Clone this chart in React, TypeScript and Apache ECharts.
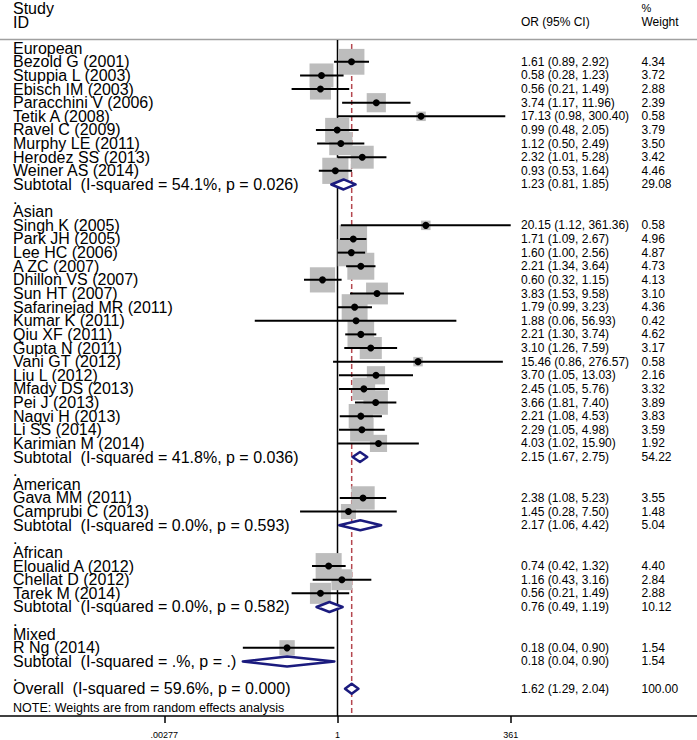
import React, { useEffect, useRef } from "react";
import * as echarts from "echarts";

// ---------- data ----------
const groupNames = ["European", "Asian", "American", "African", "Mixed"];

const studyNames = [
  ["Bezold G (2001)", "Stuppia L (2003)", "Ebisch IM (2003)", "Paracchini V (2006)", "Tetik A (2008)", "Ravel C (2009)", "Murphy LE (2011)", "Herodez SS (2013)", "Weiner AS (2014)"],
  ["Singh K (2005)", "Park JH (2005)", "Lee HC (2006)", "A ZC (2007)", "Dhillon VS (2007)", "Sun HT (2007)", "Safarinejad MR (2011)", "Kumar K (2011)", "Qiu XF (2011)", "Gupta N (2011)", "Vani GT (2012)", "Liu L (2012)", "Mfady DS (2013)", "Pei J (2013)", "Naqvi H (2013)", "Li SS (2014)", "Karimian M (2014)"],
  ["Gava MM (2011)", "Camprubi C (2013)"],
  ["Eloualid A (2012)", "Chellat D (2012)", "Tarek M (2014)"],
  ["R Ng (2014)"],
];
const studyOR = [
  [1.61, 0.58, 0.56, 3.74, 17.13, 0.99, 1.12, 2.32, 0.93],
  [20.15, 1.71, 1.6, 2.21, 0.6, 3.83, 1.79, 1.88, 2.21, 3.1, 15.46, 3.7, 2.45, 3.66, 2.21, 2.29, 4.03],
  [2.38, 1.45],
  [0.74, 1.16, 0.56],
  [0.18],
];
const studyLo = [
  [0.89, 0.28, 0.21, 1.17, 0.98, 0.48, 0.5, 1.01, 0.53],
  [1.12, 1.09, 1.0, 1.34, 0.32, 1.53, 0.99, 0.06, 1.3, 1.26, 0.86, 1.05, 1.05, 1.81, 1.08, 1.05, 1.02],
  [1.08, 0.28],
  [0.42, 0.43, 0.21],
  [0.04],
];
const studyHi = [
  [2.92, 1.23, 1.49, 11.96, 300.4, 2.05, 2.49, 5.28, 1.64],
  [361.36, 2.67, 2.56, 3.64, 1.15, 9.58, 3.23, 56.93, 3.74, 7.59, 276.57, 13.03, 5.76, 7.4, 4.53, 4.98, 15.9],
  [5.23, 7.5],
  [1.32, 3.16, 1.49],
  [0.9],
];
const studyWeight = [
  [4.34, 3.72, 2.88, 2.39, 0.58, 3.79, 3.5, 3.42, 4.46],
  [0.58, 4.96, 4.87, 4.73, 4.13, 3.1, 4.36, 0.42, 4.62, 3.17, 0.58, 2.16, 3.32, 3.89, 3.83, 3.59, 1.92],
  [3.55, 1.48],
  [4.4, 2.84, 2.88],
  [1.54],
];

const subtotalLabels = [
  "Subtotal\u00a0 (I-squared = 54.1%, p = 0.026)",
  "Subtotal\u00a0 (I-squared = 41.8%, p = 0.036)",
  "Subtotal\u00a0 (I-squared = 0.0%, p = 0.593)",
  "Subtotal\u00a0 (I-squared = 0.0%, p = 0.582)",
  "Subtotal\u00a0 (I-squared = .%, p = .)",
];
const subtotalOR = [1.23, 2.15, 2.17, 0.76, 0.18];
const subtotalLo = [0.81, 1.67, 1.06, 0.49, 0.04];
const subtotalHi = [1.85, 2.75, 4.42, 1.19, 0.9];
const subtotalWeight = [29.08, 54.22, 5.04, 10.12, 1.54];

const overallLabel = "Overall\u00a0 (I-squared = 59.6%, p = 0.000)";
const overallOR = 1.62;
const overallLo = 1.29;
const overallHi = 2.04;
const overallWeight = 100.0;

const tickValues = [0.00277, 1, 361];
const tickLabels = [".00277", "1", "361"];

// ---------- layout / style ----------
const W = 697;
const H = 740;
const FONT = '"Liberation Sans", Arial, sans-serif';
const LABEL_X = 13;
const OR_X = 521;
const WT_X = 641.5;
const X_MIN = -11.476;
const X_MAX = 12.224;
const Y_MIN = -0.6;
const Y_MAX = 49;
const BOX_SCALE = 12.4;
const BOX_COLOR = "#bdbdbd";
const DIAMOND_COLOR = "#1b1b7e";
const DASH_COLOR = "#b5474f";

type Row = {
  kind: "head" | "study" | "sub" | "blank" | "overall";
  label: string;
  or?: number;
  lo?: number;
  hi?: number;
  w?: number;
};

function buildRows(): Row[] {
  const rows: Row[] = [];
  groupNames.forEach((g, gi) => {
    rows.push({ kind: "head", label: g });
    studyNames[gi].forEach((n, si) => {
      rows.push({
        kind: "study",
        label: n,
        or: studyOR[gi][si],
        lo: studyLo[gi][si],
        hi: studyHi[gi][si],
        w: studyWeight[gi][si],
      });
    });
    rows.push({
      kind: "sub",
      label: subtotalLabels[gi],
      or: subtotalOR[gi],
      lo: subtotalLo[gi],
      hi: subtotalHi[gi],
      w: subtotalWeight[gi],
    });
    rows.push({ kind: "blank", label: "." });
  });
  rows.push({ kind: "overall", label: overallLabel, or: overallOR, lo: overallLo, hi: overallHi, w: overallWeight });
  return rows;
}

export default function App() {
  const ref = useRef<HTMLDivElement>(null);

  useEffect(() => {
    if (!ref.current) return;
    const chart = echarts.init(ref.current, undefined, { renderer: "svg" });
    const rows = buildRows();
    const ln = Math.log;

    const studyIdx = rows.map((r, i) => (r.kind === "study" ? i : -1)).filter((i) => i >= 0);
    const diamondIdx = rows.map((r, i) => (r.kind === "sub" || r.kind === "overall" ? i : -1)).filter((i) => i >= 0);

    const option: any = {
      animation: false,
      grid: { left: 0, right: 0, top: 40, bottom: 24, containLabel: false },
      xAxis: {
        type: "value",
        min: X_MIN,
        max: X_MAX,
        splitLine: { show: false },
        axisLine: { show: true, onZero: false, lineStyle: { color: "#000", width: 1.5 } },
        axisTick: {
          show: true,
          customValues: tickValues.map((v) => ln(v)),
          length: 7,
          lineStyle: { color: "#000", width: 1.5 },
        },
        axisLabel: {
          show: true,
          customValues: tickValues.map((v) => ln(v)),
          margin: 14,
          fontSize: 9,
          fontFamily: FONT,
          color: "#000",
          formatter: (v: number) => {
            const i = tickValues.findIndex((t) => Math.abs(ln(t) - v) < 1e-6);
            return i >= 0 ? tickLabels[i] : "";
          },
        },
      },
      yAxis: { type: "value", inverse: true, min: Y_MIN, max: Y_MAX, show: false },
      series: [
        // reference lines
        {
          type: "custom",
          z: 1,
          silent: true,
          data: [
            [0, -0.6, 0],
            [ln(overallOR), -0.3, 1],
          ],
          renderItem: (params: any, api: any) => {
            const x = api.value(0);
            const top = api.coord([x, api.value(1)]);
            const bot = api.coord([x, Y_MAX]);
            const dashed = api.value(2) === 1;
            return {
              type: "line",
              shape: { x1: top[0], y1: top[1], x2: bot[0], y2: bot[1] },
              style: dashed
                ? { stroke: DASH_COLOR, lineWidth: 1.5, lineDash: [5, 3] }
                : { stroke: "#000", lineWidth: 1.5 },
            };
          },
        },
        // weight boxes
        {
          type: "scatter",
          z: 2,
          silent: true,
          symbol: "rect",
          symbolSize: (v: number[]) => BOX_SCALE * Math.sqrt(v[2]),
          itemStyle: { color: BOX_COLOR, opacity: 1 },
          data: studyIdx.map((i) => [ln(rows[i].or as number), i, rows[i].w]),
        },
        // CI lines
        {
          type: "custom",
          z: 3,
          silent: true,
          data: studyIdx.map((i) => [ln(rows[i].lo as number), ln(rows[i].hi as number), i]),
          renderItem: (params: any, api: any) => {
            const a = api.coord([api.value(0), api.value(2)]);
            const b = api.coord([api.value(1), api.value(2)]);
            return {
              type: "line",
              shape: { x1: a[0], y1: a[1], x2: b[0], y2: b[1] },
              style: { stroke: "#000", lineWidth: 2 },
            };
          },
        },
        // point estimates
        {
          type: "scatter",
          z: 4,
          silent: true,
          symbol: "circle",
          symbolSize: 7,
          itemStyle: { color: "#000", opacity: 1 },
          data: studyIdx.map((i) => [ln(rows[i].or as number), i]),
        },
        // pooled diamonds
        {
          type: "custom",
          z: 5,
          silent: true,
          data: diamondIdx.map((i) => [ln(rows[i].lo as number), ln(rows[i].or as number), ln(rows[i].hi as number), i]),
          renderItem: (params: any, api: any) => {
            const row = api.value(3);
            const l = api.coord([api.value(0), row]);
            const c = api.coord([api.value(1), row]);
            const r = api.coord([api.value(2), row]);
            const h = 5;
            return {
              type: "polygon",
              shape: { points: [[l[0], l[1]], [c[0], c[1] - h], [r[0], r[1]], [c[0], c[1] + h]] },
              style: { fill: "#fff", stroke: DIAMOND_COLOR, lineWidth: 2.5, lineJoin: "round" },
            };
          },
        },
        // text columns
        {
          type: "custom",
          z: 6,
          silent: true,
          data: rows.map((r, i) => [0, i]),
          renderItem: (params: any, api: any) => {
            const i = params.dataIndex;
            const r = rows[i];
            const y = api.coord([0, i])[1];
            const children: any[] = [
              {
                type: "text",
                x: LABEL_X,
                y,
                style: { text: r.label, font: `16px ${FONT}`, fill: "#000", align: "left", verticalAlign: "middle" },
              },
            ];
            if (r.or != null) {
              children.push({
                type: "text",
                x: OR_X,
                y,
                style: {
                  text: `${r.or.toFixed(2)} (${(r.lo as number).toFixed(2)}, ${(r.hi as number).toFixed(2)})`,
                  font: `12px ${FONT}`,
                  fill: "#000",
                  align: "left",
                  verticalAlign: "middle",
                },
              });
              children.push({
                type: "text",
                x: WT_X,
                y,
                style: {
                  text: (r.w as number).toFixed(2),
                  font: `12px ${FONT}`,
                  fill: "#000",
                  align: "left",
                  verticalAlign: "middle",
                },
              });
            }
            return { type: "group", children };
          },
        },
      ],
      graphic: [
        { type: "text", x: LABEL_X, y: 8.5, style: { text: "Study", font: `16px ${FONT}`, fill: "#000", verticalAlign: "middle" } },
        { type: "text", x: LABEL_X, y: 22.5, style: { text: "ID", font: `16px ${FONT}`, fill: "#000", verticalAlign: "middle" } },
        { type: "text", x: OR_X, y: 22, style: { text: "OR (95% CI)", font: `12px ${FONT}`, fill: "#000", verticalAlign: "middle" } },
        { type: "text", x: WT_X, y: 7.5, style: { text: "%", font: `11px ${FONT}`, fill: "#000", verticalAlign: "middle" } },
        { type: "text", x: WT_X, y: 22, style: { text: "Weight", font: `12px ${FONT}`, fill: "#000", verticalAlign: "middle" } },
        { type: "line", shape: { x1: 0, y1: 39.5, x2: W, y2: 39.5 }, style: { stroke: "#a0a0a0", lineWidth: 1.5 } },
        { type: "text", x: LABEL_X, y: 708, style: { text: "NOTE: Weights are from random effects analysis", font: `12.5px ${FONT}`, fill: "#000", verticalAlign: "middle" } },
      ],
    };

    chart.setOption(option);
    return () => chart.dispose();
  }, []);

  return (
    <div
      ref={ref}
      style={{ position: "absolute", left: 0, top: 0, width: W, height: H, background: "#fff" }}
    />
  );
}
